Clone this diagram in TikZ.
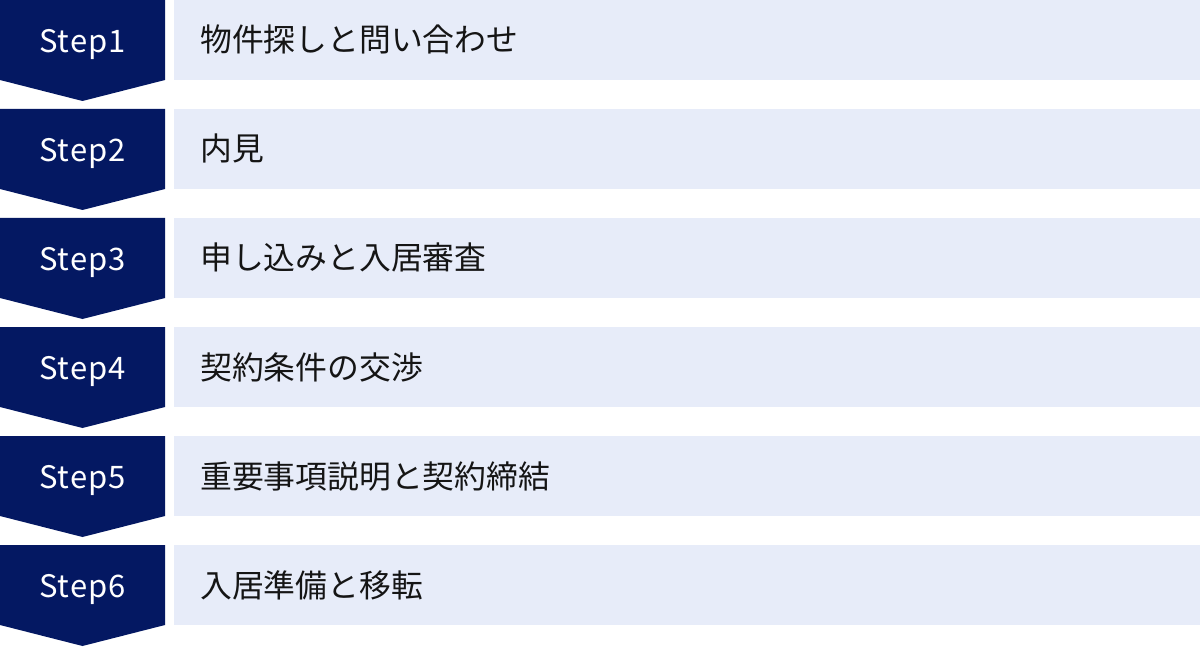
\documentclass[tikz,border=0pt]{standalone}
\usepackage{fontspec}
\setmainfont{Noto Sans}
\newfontfamily\jpfont{Noto Sans CJK JP}
\newfontfamily\stepfont[LetterSpace=3]{Noto Sans CJK JP}
\definecolor{stepnavy}{HTML}{041862}
\definecolor{steplight}{HTML}{E7ECF9}
\definecolor{steptextcol}{HTML}{151515}
\tikzset{
	stepbox/.style={fill=stepnavy},
	itembox/.style={fill=steplight},
	steplabel/.style={anchor=base,inner sep=0pt,text=white,font=\stepfont\fontsize{31}{36}\selectfont},
	itemlabel/.style={anchor=base west,inner sep=0pt,text=steptextcol,font=\jpfont\fontsize{31.8}{36}\selectfont}
}
\begin{document}
\begin{tikzpicture}[x=1pt,y=1pt]
	\useasboundingbox (0,0) rectangle (1200,-647);

	\foreach \n/\t [count=\i from 0] in {1/物件探しと問い合わせ,2/内見,3/申し込みと入居審査,4/契約条件の交渉,5/重要事項説明と契約締結,6/入居準備と移転}{
		\pgfmathsetmacro\y{-109*\i}
		\fill[stepbox](0,\y)--(165,\y)--(165,\y-80)--(82.5,\y-101)--(0,\y-80)--cycle;
		\fill[itembox](174,\y) rectangle (1200,\y-80);
		\node[steplabel] (step\n) at (82.5,\y-52.5) {Step\n};
		\node[itemlabel] (item\n) at (200,\y-52) {\t};
	}
\end{tikzpicture}
\end{document}
